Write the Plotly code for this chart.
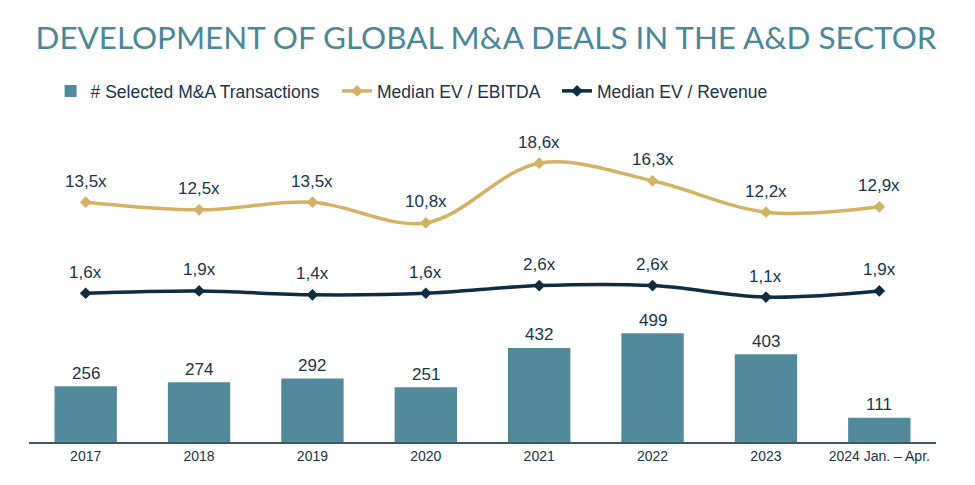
import plotly.graph_objects as go

categories = ["2017", "2018", "2019", "2020", "2021", "2022", "2023", "2024 Jan. – Apr."]
transactions = [256, 274, 292, 251, 432, 499, 403, 111]
ev_ebitda = [13.5, 12.5, 13.5, 10.8, 18.6, 16.3, 12.2, 12.9]
ev_revenue = [1.6, 1.9, 1.4, 1.6, 2.6, 2.6, 1.1, 1.9]

NAVY = "#17344b"
BAR = "#528a9b"
GOLD = "#d4b164"
DARK = "#0e2d44"
TEXT_FONT = "Liberation Sans, Arial, sans-serif"

def fmt(v):
    return f"{v:.1f}".replace(".", ",") + "x"

fig = go.Figure()
fig.add_trace(go.Bar(
    x=categories, y=transactions, name="# Selected M&A Transactions",
    marker=dict(color=BAR, line=dict(width=0)), width=0.55, yaxis="y", legend="legend",
))
fig.add_trace(go.Scatter(
    x=categories, y=ev_ebitda, name="Median EV / EBITDA", yaxis="y2", legend="legend2",
    mode="lines+markers",
    line=dict(color=GOLD, width=3.5, shape="spline", smoothing=1),
    marker=dict(symbol="diamond", size=9, color=GOLD),
))
fig.add_trace(go.Scatter(
    x=categories, y=ev_revenue, name="Median EV / Revenue", yaxis="y2", legend="legend3",
    mode="lines+markers",
    line=dict(color=DARK, width=3.5, shape="spline", smoothing=1),
    marker=dict(symbol="diamond", size=9, color=DARK),
))

annotations = []
for i, v in enumerate(transactions):
    annotations.append(dict(x=i, y=v, xref="x", yref="y", text=str(v), showarrow=False,
                            yshift=13, font=dict(family=TEXT_FONT, size=17, color=NAVY)))
for series in (ev_ebitda, ev_revenue):
    for i, v in enumerate(series):
        annotations.append(dict(x=i, y=v, xref="x", yref="y2", text=fmt(v), showarrow=False,
                                yshift=21, font=dict(family=TEXT_FONT, size=17, color=NAVY)))

def leg(xpx):
    return dict(orientation="h", xref="container", yref="container",
                x=xpx / 975, xanchor="left", y=1 - 91 / 485, yanchor="middle",
                font=dict(family=TEXT_FONT, size=17.5, color=NAVY),
                bgcolor="rgba(0,0,0,0)", borderwidth=0)

fig.update_layout(
    width=975, height=485,
    margin=dict(l=29, r=39, t=100, b=43, autoexpand=False),
    paper_bgcolor="white", plot_bgcolor="white",
    title=dict(text="DEVELOPMENT OF GLOBAL M&A DEALS IN THE A&D SECTOR",
               font=dict(family="Lato", size=31.4, color="#4b8799"),
               x=486 / 975, xanchor="center", xref="container",
               y=1 - 38 / 485, yanchor="middle", yref="container"),
    legend=leg(50.6),
    legend2=leg(337),
    legend3=leg(557),
    xaxis=dict(type="category", range=[-0.5, 7.5], showline=True, linecolor="#3f5866",
               linewidth=2, ticks="", showgrid=False, zeroline=False,
               tickfont=dict(family=TEXT_FONT, size=14, color=NAVY)),
    yaxis=dict(range=[0, 1570], visible=False, showgrid=False, zeroline=False),
    yaxis2=dict(range=[-17.84, 26.86], overlaying="y", visible=False,
                showgrid=False, zeroline=False),
    annotations=annotations,
    showlegend=True,
)

fig.write_html("out.html")
